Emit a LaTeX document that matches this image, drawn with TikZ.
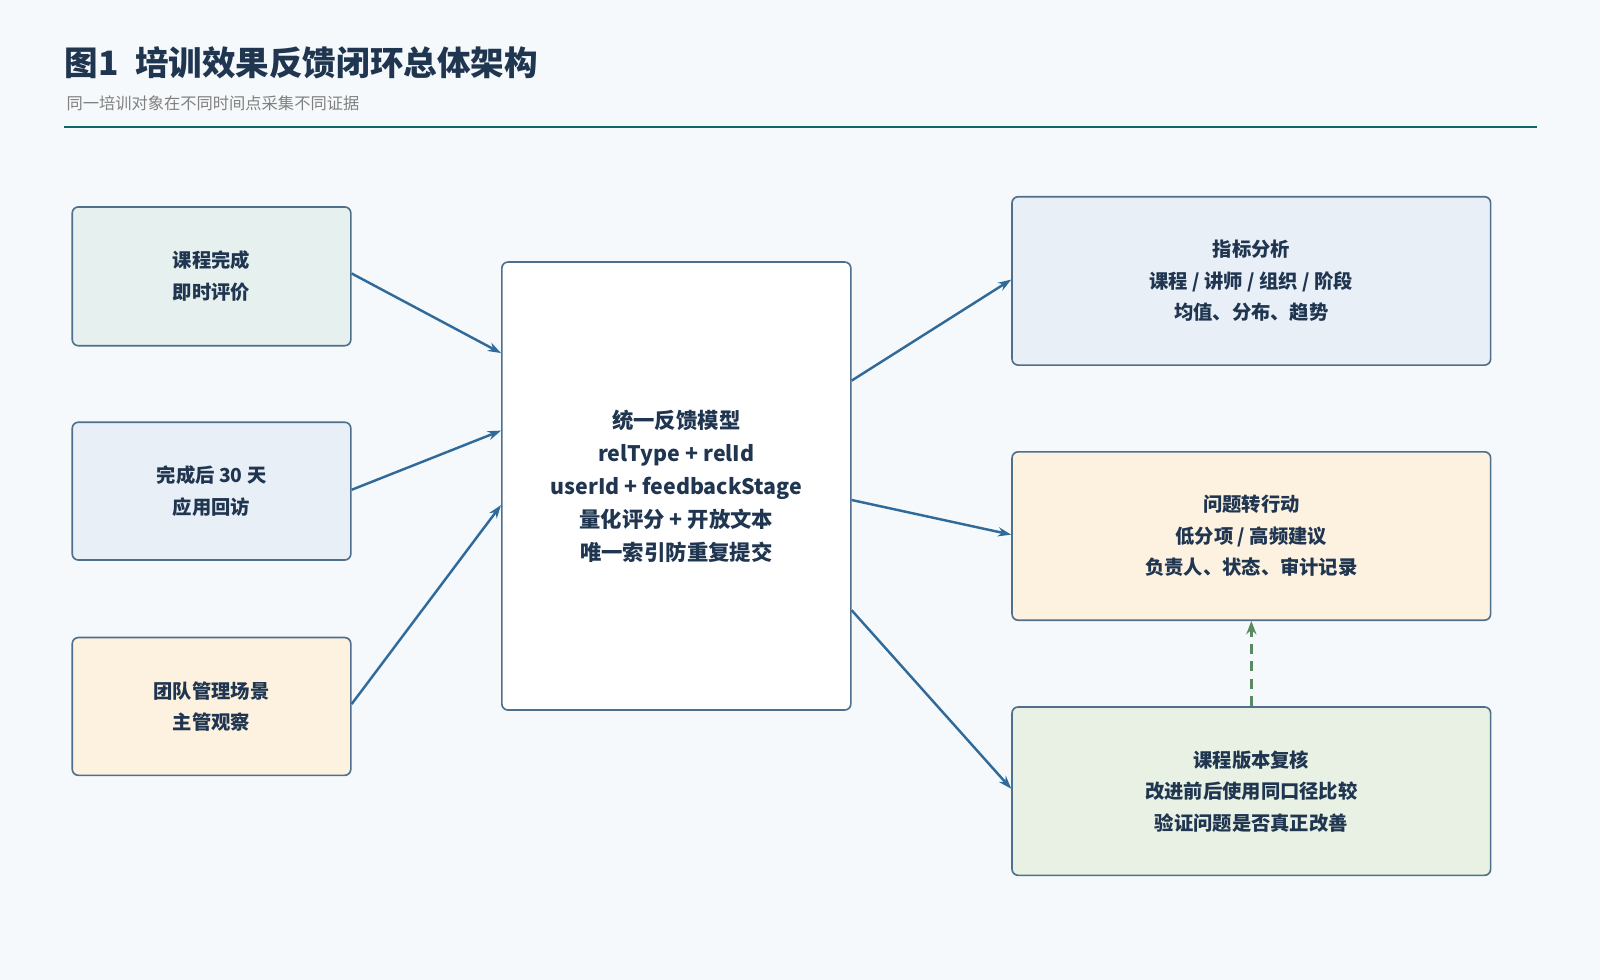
\documentclass[tikz,border=0pt]{standalone}
\usepackage{fontspec}
\setmainfont{Noto Sans CJK SC}
\usetikzlibrary{arrows.meta}
\definecolor{bg}{HTML}{F5F9FB}
\definecolor{navy}{HTML}{1F3550}
\definecolor{edge}{HTML}{4F6F8C}
\definecolor{arr}{HTML}{2F6A9A}
\definecolor{teal}{HTML}{E6F0EE}
\definecolor{blue}{HTML}{E9EFF7}
\definecolor{cream}{HTML}{FDF2E0}
\definecolor{green}{HTML}{E8F1E4}
\definecolor{dgreen}{HTML}{5A8A60}
\begin{document}
\begin{tikzpicture}[x=1bp,y=-1bp,
 box/.style={draw=edge,line width=1.6bp,rounded corners=6bp,align=center,font=\bfseries\fontsize{19}{31}\selectfont,text=navy,anchor=north west,inner sep=0pt},
 con/.style={draw=arr,line width=2.4bp,-{Stealth[length=13bp,width=9bp]}}]
\fill[bg] (0,0) rectangle (1568,960);
\useasboundingbox (0,0) rectangle (1568,960);
\node[anchor=west,text=navy,font=\bfseries\fontsize{33}{36}\selectfont,inner sep=0pt] (title) at (63,62) {图1\hspace{0.5em}培训效果反馈闭环总体架构};
\node[anchor=west,text=gray,font=\fontsize{16}{18}\selectfont,inner sep=0pt] (sub) at (65,101) {同一培训对象在不同时间点采集不同证据};
\draw[color={rgb,255:red,169;green,184;blue,200},line width=2bp] (63,124) -- (1506,124);
\node[box,fill=teal,minimum width=273bp,minimum height=136bp] (l1) at (70,202) {课程完成\\即时评价};
\node[box,fill=blue,minimum width=273bp,minimum height=135bp] (l2) at (70,413) {完成后 30 天\\应用回访};
\node[box,fill=cream,minimum width=273bp,minimum height=135bp] (l3) at (70,624) {团队管理场景\\主管观察};
\node[box,fill=white,minimum width=342bp,minimum height=439bp,font=\bfseries\fontsize{21}{32.5}\selectfont] (c) at (491,256) {统一反馈模型\\relType + relId\\userId + feedbackStage\\量化评分 + 开放文本\\唯一索引防重复提交};
\node[box,fill=blue,minimum width=469bp,minimum height=165bp] (r1) at (991,192) {指标分析\\课程 / 讲师 / 组织 / 阶段\\均值、分布、趋势};
\node[box,fill=cream,minimum width=469bp,minimum height=165bp] (r2) at (991,442) {问题转行动\\低分项 / 高频建议\\负责人、状态、审计记录};
\node[box,fill=green,minimum width=469bp,minimum height=165bp] (r3) at (991,692) {课程版本复核\\改进前后使用同口径比较\\验证问题是否真正改善};
\draw[con] (l1.east|-0,268) -- (c.west|-0,346);
\draw[con] (l2.east|-0,480) -- (c.west|-0,422);
\draw[con] (l3.east|-0,690) -- (c.west|-0,495);
\draw[con] (c.east|-0,373) -- (r1.west|-0,274);
\draw[con] (c.east|-0,490) -- (r2.west|-0,524);
\draw[con] (c.east|-0,598) -- (r3.west|-0,773);
\draw[draw=dgreen,line width=2.6bp,dash pattern=on 10bp off 7bp,-{Stealth[length=13bp,width=10bp]}] (r3.north) -- (r2.south);
\end{tikzpicture}
\end{document}
